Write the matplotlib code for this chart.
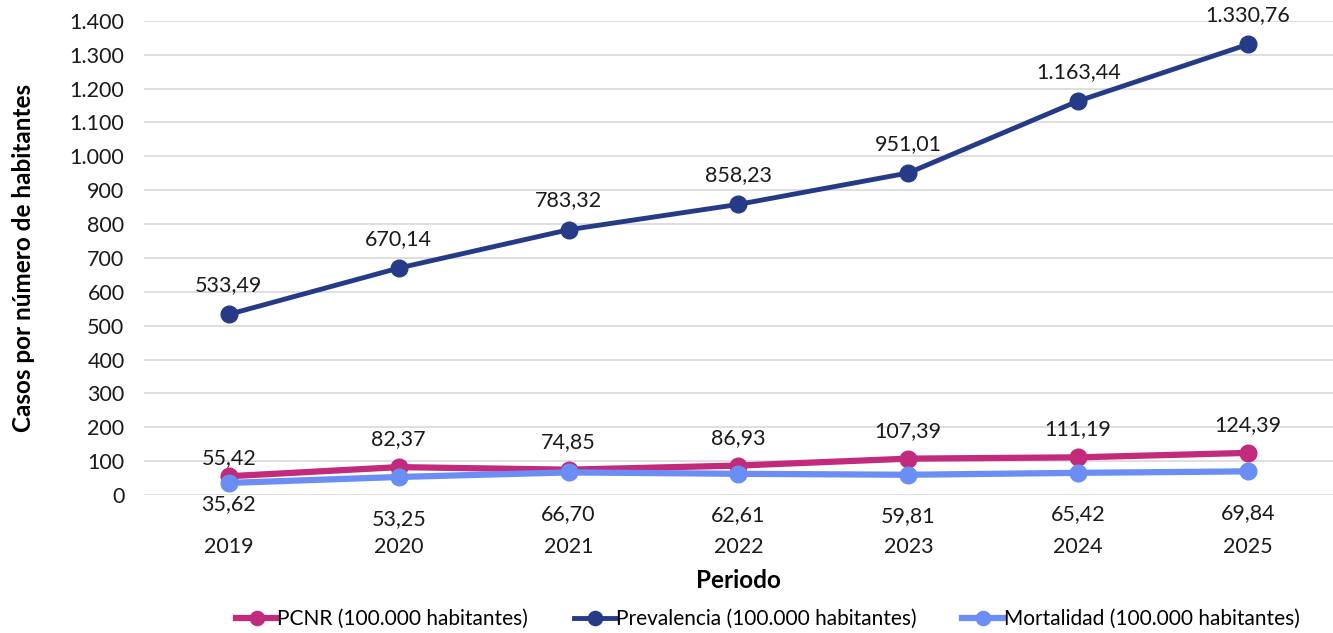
import matplotlib
matplotlib.use("Agg")
import matplotlib.pyplot as plt
from matplotlib.ticker import FuncFormatter, MultipleLocator

years = ["2019", "2020", "2021", "2022", "2023", "2024", "2025"]
pcnr = [55.42, 82.37, 74.85, 86.93, 107.39, 111.19, 124.39]
prevalencia = [533.49, 670.14, 783.32, 858.23, 951.01, 1163.44, 1330.76]
mortalidad = [35.62, 53.25, 66.70, 62.61, 59.81, 65.42, 69.84]

series_names = ["PCNR (100.000 habitantes)",
                "Prevalencia (100.000 habitantes)",
                "Mortalidad (100.000 habitantes)"]
colors = ["#c22a7c", "#263b87", "#6b8ef4"]

plt.rcParams['font.family'] = ['Lato', 'DejaVu Sans']


def es_num(v, dec=2):
    # spanish style number: dot for thousands, comma for decimals
    s = f"{v:,.{dec}f}"
    return s.replace(",", "X").replace(".", ",").replace("X", ".")


fig = plt.figure(figsize=(13.33, 6.33), dpi=100)
ax = fig.add_axes([0.108, 0.218, 0.892, 0.749])

x = list(range(len(years)))

ax.plot(x, pcnr, color=colors[0], lw=4.5, marker='o', ms=12, label=series_names[0], zorder=3, clip_on=False)
ax.plot(x, prevalencia, color=colors[1], lw=3.5, marker='o', ms=12, label=series_names[1], zorder=3, clip_on=False)
ax.plot(x, mortalidad, color=colors[2], lw=4.5, marker='o', ms=12, label=series_names[2], zorder=4, clip_on=False)

# data labels (first pair sits closer to its points)
lab_kw = dict(textcoords='offset points', ha='center', va='center', fontsize=15.5, color='#1a1a1a')
for i in x:
    up = 13 if i == 0 else 20
    down = -15 if i == 0 else -30
    ax.annotate(es_num(prevalencia[i]), (i, prevalencia[i]), xytext=(0, 21), **lab_kw)
    ax.annotate(es_num(pcnr[i]), (i, pcnr[i]), xytext=(0, up), **lab_kw)
    ax.annotate(es_num(mortalidad[i]), (i, mortalidad[i]), xytext=(0, down), **lab_kw)

ax.set_xlim(-0.5, len(years) - 0.5)
ax.set_ylim(0, 1400)
ax.yaxis.set_major_locator(MultipleLocator(100))
ax.yaxis.set_major_formatter(FuncFormatter(lambda v, p: es_num(v, 0)))
ax.set_xticks(x)
ax.set_xticklabels(years)
ax.tick_params(axis='both', length=0, labelsize=15.5, colors='#1a1a1a')
ax.tick_params(axis='x', pad=30)
ax.tick_params(axis='y', pad=14)
ax.grid(axis='y', color='#d9d9d9', lw=1.2)
ax.set_axisbelow(True)
for sp in ax.spines.values():
    sp.set_visible(False)

ax.set_ylabel("Casos por número de habitantes", fontsize=17.5, fontweight='bold', labelpad=25)
ax.set_xlabel("Periodo", fontsize=17.5, fontweight='bold', labelpad=9)

leg = fig.legend(loc='center', bbox_to_anchor=(0.576, 0.022), ncol=3, frameon=False,
                 fontsize=15, handlelength=2.0, handletextpad=0.0, columnspacing=2.2,
                 markerscale=0.85)

fig.savefig("out.png", dpi=100)
